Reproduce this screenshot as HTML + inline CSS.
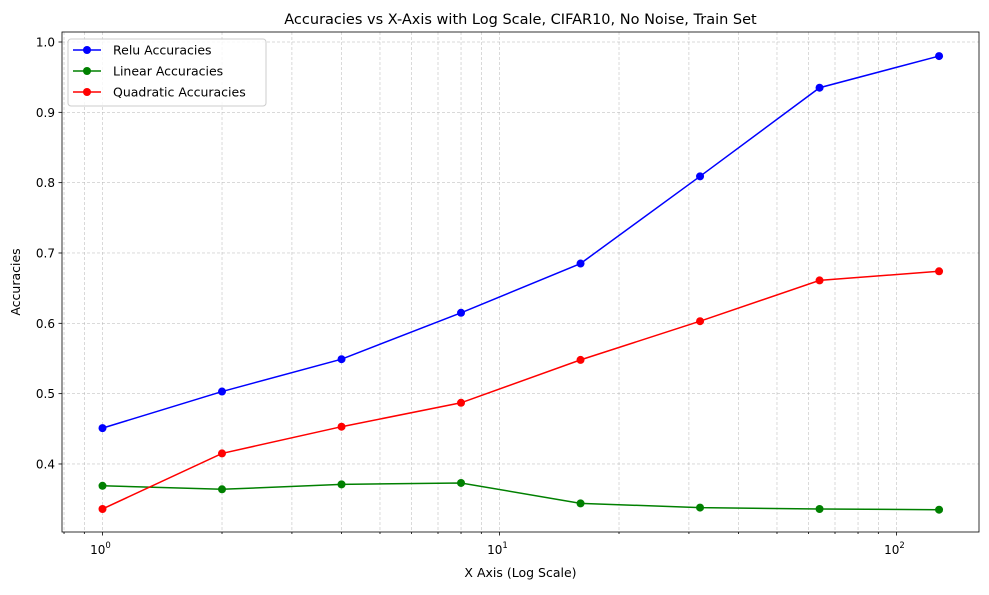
<!DOCTYPE html>
<html><head><meta charset="utf-8"><style>
body{margin:0;background:#fff;font-family:"Liberation Sans","DejaVu Sans",sans-serif}
svg text{font-family:"DejaVu Sans","Liberation Sans",sans-serif}
</style></head><body>
<svg id="chart" width="989" height="590" xmlns="http://www.w3.org/2000/svg"></svg>
<script>
const xValues=[1,2,4,8,16,32,64,128];
const reluValues=[0.451,0.503,0.549,0.615,0.685,0.809,0.935,0.980];
const linearValues=[0.369,0.364,0.371,0.373,0.344,0.338,0.336,0.335];
const quadValues=[0.336,0.415,0.453,0.487,0.548,0.603,0.661,0.674];
const yTicks=[0.4,0.5,0.6,0.7,0.8,0.9,1.0];
const xTickExps=[0,1,2];
const seriesNames=["Relu Accuracies","Linear Accuracies","Quadratic Accuracies"];

const L=62,R=979,T=32,B=532;
const x0=102.5,dec=397;
const X=v=>x0+Math.log10(v)*dec;
const Y=v=>42+(1-v)*703.3;
const svg=document.getElementById('chart');
const NS="http://www.w3.org/2000/svg";
function el(tag,attrs,parent){const e=document.createElementNS(NS,tag);for(const k in attrs)e.setAttribute(k,attrs[k]);(parent||svg).appendChild(e);return e;}

const grid=el('g',{});


for(let d=-1;d<=2;d++)for(let m=1;m<10;m++){const v=m*Math.pow(10,d);const px=X(v);if(px<L||px>R)continue;
 el('line',{x1:px,x2:px,y1:T,y2:B,stroke:'#b4b4b4','stroke-width':0.5,'stroke-dasharray':'3,2'},grid);
 el('line',{x1:px,x2:px,y1:B,y2:B+(m==1?3.5:2),stroke:'#000','stroke-width':0.8});}
yTicks.forEach(v=>{const py=Y(v);
 el('line',{x1:L,x2:R,y1:py,y2:py,stroke:'#b4b4b4','stroke-width':0.5,'stroke-dasharray':'3,2'},grid);
 el('line',{x1:L-3.5,x2:L,y1:py,y2:py,stroke:'#000','stroke-width':0.8});
 const t=el('text',{x:L-7,y:py+4.5,'text-anchor':'end','font-size':12});t.textContent=v.toFixed(1);
 
 });
xTickExps.forEach(e=>{const px=X(Math.pow(10,e));
 const t=el('text',{x:px-2,y:B+22,'text-anchor':'middle','font-size':12});t.innerHTML='10<tspan dy="-6" font-size="8.5">'+e+'</tspan>';
 
 });
el('rect',{x:L,y:T,width:R-L,height:B-T,fill:'none',stroke:'#000','stroke-width':0.8});

const colors=['#0000ff','#008000','#ff0000'];
[reluValues,linearValues,quadValues].forEach((vals,i)=>{
 const g=el('g',{});
 
 
 el('polyline',{points:vals.map((v,j)=>X(xValues[j])+','+Y(v)).join(' '),fill:'none',stroke:colors[i],'stroke-width':1.5},g);
 vals.forEach((v,j)=>{const c=el('circle',{cx:X(xValues[j]),cy:Y(v),r:4,fill:colors[i]},g);
  
  });
});

const lg=el('g',{});


el('rect',{x:68,y:39,width:198,height:67,rx:3,fill:'#fff','fill-opacity':0.8,stroke:'#ccc'},lg);
seriesNames.forEach((n,i)=>{const y=50+i*21;
 el('line',{x1:73,x2:101,y1:y,y2:y,stroke:colors[i],'stroke-width':1.5},lg);
 el('circle',{cx:87,cy:y,r:4,fill:colors[i]},lg);
 const t=el('text',{x:113,y:y+4.5,'font-size':12.5},lg);t.textContent=n;
 
 });

const title=el('text',{x:(L+R)/2,y:24,'text-anchor':'middle','font-size':14.5});title.textContent='Accuracies vs X-Axis with Log Scale, CIFAR10, No Noise, Train Set';


const xt=el('text',{x:(L+R)/2,y:577,'text-anchor':'middle','font-size':12.5});xt.textContent='X Axis (Log Scale)';


const yt=el('text',{x:20,y:(T+B)/2,'text-anchor':'middle','font-size':12.5,transform:'rotate(-90 20 '+((T+B)/2)+')'});yt.textContent='Accuracies';


</script>
</body></html>
